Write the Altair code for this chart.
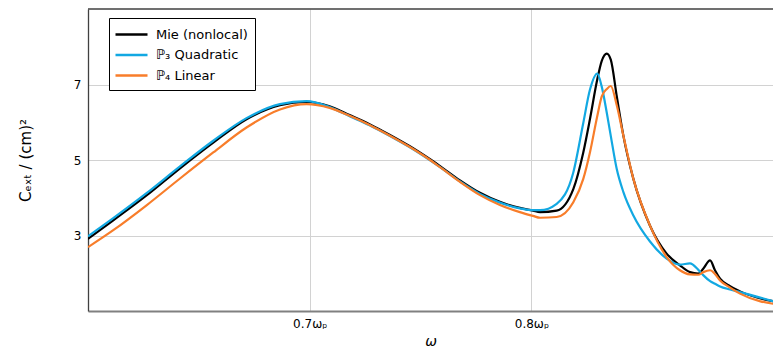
import altair as alt
import pandas as pd

# Frequency grid (in units of omega_p)
omega = [0.600, 0.6114, 0.6264, 0.6415, 0.6565, 0.6715, 0.6866, 0.6986, 0.709, 0.718,
         0.727, 0.736, 0.745, 0.7543, 0.7588, 0.7678, 0.7768, 0.7858, 0.7948, 0.8007,
         0.8039, 0.8114, 0.8189, 0.8234, 0.8264, 0.8297, 0.8317, 0.8340, 0.8358, 0.8385,
         0.8415, 0.8460, 0.8535, 0.8610, 0.8670, 0.8715, 0.8753, 0.8775, 0.8806, 0.8828,
         0.8851, 0.8896, 0.8941, 0.9125]

mie = [2.91, 3.40, 4.06, 4.78, 5.46, 6.08, 6.45, 6.54, 6.42, 6.19,
       5.95, 5.67, 5.37, 5.02, 4.84, 4.46, 4.13, 3.89, 3.73, 3.66,
       3.62, 3.66, 4.23, 5.20, 6.08, 7.13, 7.62, 7.82, 7.66, 6.69,
       5.64, 4.50, 3.26, 2.52, 2.21, 2.03, 1.99, 2.12, 2.34, 2.08,
       1.86, 1.66, 1.52, 1.22]

p3_quadratic = [2.98, 3.46, 4.12, 4.83, 5.51, 6.11, 6.48, 6.56, 6.40, 6.16,
                5.92, 5.64, 5.34, 4.99, 4.81, 4.43, 4.10, 3.87, 3.72, 3.67,
                3.67, 3.84, 4.67, 5.98, 6.86, 7.29, 6.95, 6.25, 5.64, 4.76,
                4.15, 3.53, 2.84, 2.39, 2.23, 2.26, 2.09, 1.95, 1.79, 1.72,
                1.65, 1.57, 1.50, 1.20]

p4_linear = [2.69, 3.14, 3.80, 4.51, 5.20, 5.86, 6.34, 6.48, 6.38, 6.17,
             5.93, 5.65, 5.35, 5.00, 4.81, 4.42, 4.07, 3.81, 3.62, 3.52,
             3.47, 3.49, 3.88, 4.50, 5.20, 6.16, 6.68, 6.88, 6.96, 6.45,
             5.64, 4.50, 3.26, 2.43, 2.08, 1.97, 1.96, 2.03, 2.08, 1.98,
             1.81, 1.62, 1.46, 1.16]

series_names = ["Mie (nonlocal)", "ℙ₃ Quadratic", "ℙ₄ Linear"]
series_values = [mie, p3_quadratic, p4_linear]
colors = ["#000000", "#12a8e2", "#f87d2a"]

x_ticks = [0.7, 0.8]
y_ticks = [3, 5, 7]

rows = []
for k, (name, vals) in enumerate(zip(series_names, series_values)):
    for w, c in zip(omega, vals):
        rows.append({"omega": w, "C": c, "series": name, "k": k})
df = pd.DataFrame(rows)

W, H = 685, 302
FONT = "DejaVu Sans"

lines = alt.Chart(df).mark_line(strokeWidth=2.2, interpolate="monotone", clip=True).encode(
    x=alt.X("omega:Q",
            scale=alt.Scale(domain=[0.6, 0.6 + W / 2217], nice=False, zero=False),
            axis=alt.Axis(values=x_ticks,
                          labelExpr="format(datum.value, '.1f') + 'ωₚ'",
                          title="ω", titleFontStyle="italic", titleFontWeight="normal",
                          titleFontSize=14, titleY=30, titleBaseline="middle",
                          labelPadding=7, ticks=False,
                          domainColor="#808080", domainWidth=2)),
    y=alt.Y("C:Q",
            scale=alt.Scale(domain=[1, 9], nice=False, zero=False),
            axis=alt.Axis(values=y_ticks, title="Cₑₓₜ  / (cm)²",
                          titleFontWeight="normal", titleFontSize=15,
                          titleAngle=-90, titleX=-63, titleY=H / 2,
                          titleAlign="center", titleBaseline="middle",
                          labelPadding=7, ticks=False,
                          domainColor="#404040", domainWidth=1.3)),
    color=alt.Color("series:N",
                    scale=alt.Scale(domain=series_names, range=colors),
                    legend=alt.Legend(title=None, orient="none", legendX=21, legendY=9,
                                      symbolType="M-2,0L2,0", symbolSize=256,
                                      symbolStrokeWidth=2.5, labelFontSize=13,
                                      labelFont=FONT, labelOffset=15, rowPadding=3.5,
                                      padding=7, symbolOffset=6,
                                      strokeColor="black", fillColor="white",
                                      cornerRadius=0)),
    order=alt.Order("k:Q"),
)

frame_top = alt.Chart(pd.DataFrame({"edge": ["top"]})).mark_rule(
    color="#404040", strokeWidth=1.3
).encode(x=alt.value(0), x2=alt.value(W), y=alt.value(0))

chart = alt.layer(lines, frame_top).properties(
    width=W, height=H,
    autosize=alt.AutoSizeParams(type="none"),
    padding={"left": 80, "top": 1, "right": 0, "bottom": 37},
).configure_view(
    strokeWidth=0
).configure_axis(
    gridColor="#d2d2d2", gridWidth=1, labelFont=FONT, titleFont=FONT,
    labelFontSize=12, labelColor="#000000", titleColor="#000000"
)

chart.save("out.html", embed_options={"renderer": "svg", "actions": False})
